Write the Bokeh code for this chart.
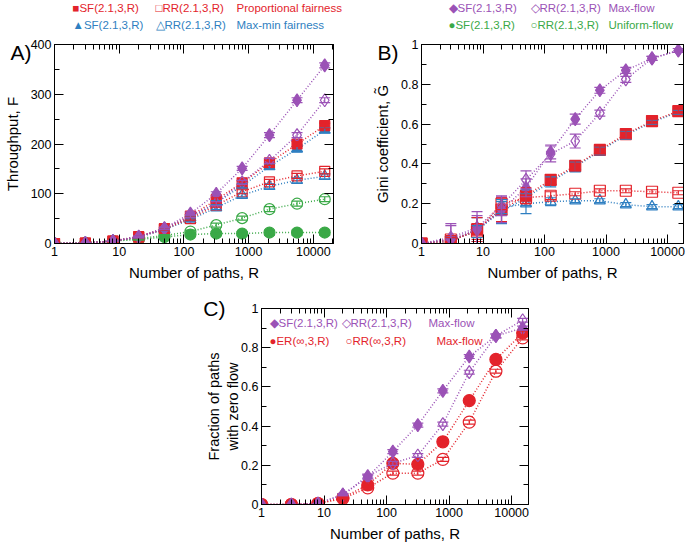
import math
from bokeh.plotting import figure
from bokeh.models import (Range1d, FixedTicker, CustomJSTickFormatter, LogAxis, LinearAxis,
                          Label, Whisker, TeeHead, ColumnDataSource, Spacer)
from bokeh.layouts import column, row
from bokeh.embed import file_html
from bokeh.resources import INLINE

# ---------------- data ----------------
R = [1, 3, 8, 20, 50, 126, 316, 794, 2100, 5600, 15000]

# Panel A: throughput F
A_sf_maxflow = [0, 1, 5, 14, 31, 60, 100, 151, 218, 288, 358]
A_rr_maxflow = [0, 1, 5, 13, 30, 55, 80, 123, 166, 218, 288]
A_sf_prop = [0, 1, 5, 14, 30, 55, 88, 122, 162, 200, 237]
A_rr_prop = [0, 1, 5, 13, 29, 50, 77, 104, 124, 136, 145]
A_sf_maxmin = [0, 1, 5, 13, 29, 52, 82, 116, 155, 190, 228]
A_rr_maxmin = [0, 1, 5, 13, 28, 48, 72, 97, 115, 127, 135]
A_sf_uniform = [0, 1, 5, 8, 13, 18, 20, 20, 22, 22, 22]
A_rr_uniform = [0, 1, 5, 10, 16, 24, 37, 51, 69, 80, 89]
A_err = [0, 0, 1, 1.5, 2, 3, 4, 4, 5, 5, 5]

# Panel B: Gini coefficient
B_sf_maxflow = [0, 0.02, 0.07, 0.17, 0.28, 0.46, 0.625, 0.77, 0.87, 0.93, 0.97]
B_sf_maxflow_err = [0, 0.07, 0.07, 0.065, 0.045, 0.035, 0.025, 0.015, 0.015, 0.01, 0.01]
B_rr_maxflow = [0, 0.03, 0.08, 0.19, 0.32, 0.45, 0.515, 0.655, 0.825, 0.93, 0.97]
B_rr_maxflow_err = [0, 0.07, 0.08, 0.05, 0.045, 0.04, 0.035, 0.015, 0.015, 0.01, 0.01]
B_sf_prop = [0, 0.01, 0.07, 0.17, 0.24, 0.32, 0.39, 0.47, 0.55, 0.615, 0.665]
B_sf_prop_err = [0, 0.02, 0.06, 0.06, 0.04, 0.025, 0.025, 0.02, 0.02, 0.01, 0.01]
B_rr_prop = [0, 0.02, 0.06, 0.2, 0.23, 0.24, 0.25, 0.265, 0.265, 0.26, 0.255]
B_rr_prop_err = [0, 0.02, 0.04, 0.03, 0.03, 0.02, 0.01, 0.01, 0.01, 0.01, 0.01]
B_sf_maxmin = [0, 0.01, 0.07, 0.16, 0.23, 0.31, 0.385, 0.465, 0.545, 0.61, 0.66]
B_sf_maxmin_err = [0, 0.02, 0.06, 0.06, 0.04, 0.025, 0.025, 0.02, 0.02, 0.01, 0.01]
B_rr_maxmin = [0, 0.02, 0.06, 0.18, 0.2, 0.21, 0.215, 0.215, 0.195, 0.185, 0.185]
B_rr_maxmin_err = [0, 0.02, 0.03, 0.03, 0.05, 0.02, 0.01, 0.01, 0.01, 0.01, 0.01]

# Panel C: fraction of paths with zero flow
C_sf_maxflow = [0, 0, 0.005, 0.05, 0.14, 0.27, 0.405, 0.58, 0.755, 0.86, 0.90]
C_rr_maxflow = [0, 0, 0.005, 0.05, 0.145, 0.21, 0.25, 0.41, 0.675, 0.86, 0.94]
C_er_maxflow = [0, 0, 0.005, 0.035, 0.1, 0.21, 0.205, 0.32, 0.53, 0.74, 0.875]
C_rrinf_maxflow = [0, 0, 0.005, 0.03, 0.085, 0.16, 0.16, 0.23, 0.42, 0.68, 0.85]
C_err = [0, 0, 0, 0.005, 0.01, 0.01, 0.01, 0.01, 0.01, 0.01, 0.01]

X_MAJOR = [1, 10, 100, 1000, 10000]
X_MINOR = [m * 10 ** k for k in range(0, 5) for m in range(2, 10)]
X_LABEL = "Number of paths, R"

PURPLE = "#9b52b6"
RED = "#e3232b"
BLUE = "#2f7fc1"
GREEN = "#3aa947"
FONT = "Liberation Sans"

LEG_H = 34


class Panel:
    def __init__(self, fig_left, fig_top, width, height, fl, fr, ft, fb, xr, yr):
        self.fl, self.fr, self.ft, self.fb = fl, fr, ft, fb
        self.xr, self.yr = xr, yr
        self.p = figure(width=width, height=height, x_axis_type="log",
                        x_range=Range1d(*xr), y_range=Range1d(*yr), title=None,
                        output_backend="svg", toolbar_location=None,
                        min_border_left=fl - fig_left, min_border_right=fig_left + width - fr,
                        min_border_top=ft - fig_top, min_border_bottom=fig_top + height - fb)

    def to_data(self, px, py):
        lx0, lx1 = math.log10(self.xr[0]), math.log10(self.xr[1])
        fx = (px - self.fl) / (self.fr - self.fl)
        x = 10 ** (lx0 + fx * (lx1 - lx0))
        fy = (self.fb - py) / (self.fb - self.ft)
        y = self.yr[0] + fy * (self.yr[1] - self.yr[0])
        return x, y

    def label(self, px, py, text, color="black", size="11.5px"):
        x, y = self.to_data(px, py)
        self.p.add_layout(Label(x=x, y=y, text=text, text_color=color, text_font=FONT,
                                text_font_size=size, text_align="left",
                                text_baseline="middle"))


def style(panel, yticks, yminor, ylabel, letter, letter_y, letter_standoff, ylabel_standoff,
          ylabel_size="15px"):
    p = panel.p
    p.grid.visible = False
    p.outline_line_color = "black"
    p.background_fill_color = "white"
    p.border_fill_color = "white"
    xt = FixedTicker(ticks=X_MAJOR, minor_ticks=X_MINOR)
    yt = FixedTicker(ticks=yticks, minor_ticks=yminor)
    p.xaxis.ticker = xt
    p.yaxis.ticker = yt
    p.xaxis.formatter = CustomJSTickFormatter(code="return tick.toFixed(0);")
    p.yaxis.formatter = CustomJSTickFormatter(code="return (Math.round(tick*10)/10).toString();")
    p.xaxis.axis_label = X_LABEL
    top = LogAxis(ticker=xt, formatter=CustomJSTickFormatter(code="return '';"))
    right = LinearAxis(ticker=yt, formatter=CustomJSTickFormatter(code="return '';"))
    p.add_layout(top, "above")
    p.add_layout(right, "right")
    for ax in p.axis:
        ax.major_tick_in = 9
        ax.major_tick_out = 0
        ax.minor_tick_in = 5
        ax.minor_tick_out = 0
        ax.axis_line_color = "black"
        ax.major_tick_line_color = "black"
        ax.minor_tick_line_color = "black"
        ax.major_label_text_font = FONT
        ax.major_label_text_font_size = "12.5px"
        ax.major_label_text_color = "black"
        ax.major_label_standoff = 3
        ax.axis_label_text_font = FONT
        ax.axis_label_text_font_size = "15px"
        ax.axis_label_text_font_style = "normal"
        ax.axis_label_text_color = "black"
    xa = p.xaxis[0]
    xa.axis_label_standoff = 0
    xa.major_label_standoff = 2
    xa.major_label_text_line_height = 1.0
    xa.axis_label_text_line_height = 1.0
    for ax in (top, right):
        ax.major_label_text_font_size = "1px"
        ax.major_label_text_color = None
        ax.major_label_standoff = 0
    # outer left axis: panel letter and y-axis title
    outer = LinearAxis(ticker=FixedTicker(ticks=[letter_y], minor_ticks=[]),
                       formatter=CustomJSTickFormatter(code="return '%s';" % letter),
                       axis_line_color=None, major_tick_line_color=None,
                       minor_tick_line_color=None, major_tick_in=0, major_tick_out=0,
                       major_label_standoff=letter_standoff,
                       major_label_text_font=FONT, major_label_text_font_size="21px",
                       major_label_text_color="black",
                       axis_label=ylabel, axis_label_standoff=ylabel_standoff,
                       axis_label_text_font=FONT, axis_label_text_font_size=ylabel_size,
                       axis_label_text_font_style="normal", axis_label_text_color="black")
    p.add_layout(outer, "left")


def series(p, y, err, color, marker, filled, size):
    src = ColumnDataSource(dict(x=R, y=y))
    p.line("x", "y", source=src, line_color=color, line_dash="1 2", line_width=1.5)
    xs = [x for x, e in zip(R, err) if e > 0]
    ys = [v for v, e in zip(y, err) if e > 0]
    es = [e for e in err if e > 0]
    wsrc = ColumnDataSource(dict(x=xs, lo=[a - b for a, b in zip(ys, es)],
                                 hi=[a + b for a, b in zip(ys, es)]))
    p.add_layout(Whisker(source=wsrc, base="x", lower="lo", upper="hi",
                         line_color=color, line_width=1.2, level="glyph",
                         lower_head=TeeHead(size=11, line_color=color, line_width=1.2),
                         upper_head=TeeHead(size=11, line_color=color, line_width=1.2)))
    p.scatter("x", "y", source=src, marker=marker, size=size,
              fill_color=color if filled else None, line_color=color, line_width=1.2)


# ---------------- legend strip above panels A and B ----------------
leg = figure(width=685, height=LEG_H, x_range=Range1d(0, 685), y_range=Range1d(0, LEG_H),
             x_axis_type=None, y_axis_type=None, title=None, output_backend="svg",
             toolbar_location=None, min_border=0)
leg.grid.visible = False
leg.outline_line_color = None


def leg_text(px, py, text, color):
    leg.add_layout(Label(x=px, y=LEG_H - py, text=text, text_color=color, text_font=FONT,
                         text_font_size="11.5px", text_align="left", text_baseline="middle"))


for px, py, txt, col in [
    (72, 7, "\u25a0SF(2.1,3,R)", RED), (155, 7, "\u25a1RR(2.1,3,R)", RED),
    (236, 7, "Proportional fairness", RED),
    (72, 24, "\u25b2SF(2.1,3,R)", BLUE), (155, 24, "\u25b3RR(2.1,3,R)", BLUE),
    (236, 24, "Max-min fairness", BLUE),
    (448, 7, "\u25c6SF(2.1,3,R)", PURPLE), (530, 7, "\u25c7RR(2.1,3,R)", PURPLE),
    (608, 7, "Max-flow", PURPLE),
    (448, 24, "\u25cfSF(2.1,3,R)", GREEN), (530, 24, "\u25cbRR(2.1,3,R)", GREEN),
    (608, 24, "Uniform-flow", GREEN),
]:
    leg_text(px, py, txt, col)

# ---------------- Panel A ----------------
A = Panel(0, LEG_H, 338, 283 - LEG_H, 45, 333, 44, 248, (1, 20500), (0, 400))
style(A, [0, 100, 200, 300, 400], [50, 150, 250, 350], "Throughput, F",
      "A)", 383, -4, -13)
pa = A.p
series(pa, A_rr_uniform, A_err, GREEN, "circle", False, 11)
series(pa, A_sf_uniform, A_err, GREEN, "circle", True, 11)
series(pa, A_rr_maxmin, A_err, BLUE, "triangle", False, 11)
series(pa, A_sf_maxmin, A_err, BLUE, "triangle", True, 11)
series(pa, A_rr_prop, A_err, RED, "square", False, 10)
series(pa, A_sf_prop, A_err, RED, "square", True, 10)
series(pa, A_rr_maxflow, A_err, PURPLE, "diamond", False, 13)
series(pa, A_sf_maxflow, A_err, PURPLE, "diamond", True, 13)

# ---------------- Panel B ----------------
B = Panel(338, LEG_H, 347, 283 - LEG_H, 421, 683, 44, 248, (1, 18200), (0, 1))
style(B, [0, 0.2, 0.4, 0.6, 0.8, 1.0], [0.1, 0.3, 0.5, 0.7, 0.9], "Gini coefficient, G\u0303",
      "B)", 0.96, 0, -16)
pb = B.p
series(pb, B_rr_maxmin, B_rr_maxmin_err, BLUE, "triangle", False, 11)
series(pb, B_sf_maxmin, B_sf_maxmin_err, BLUE, "triangle", True, 11)
series(pb, B_rr_prop, B_rr_prop_err, RED, "square", False, 11)
series(pb, B_sf_prop, B_sf_prop_err, RED, "square", True, 11)
series(pb, B_rr_maxflow, B_rr_maxflow_err, PURPLE, "diamond", False, 13)
series(pb, B_sf_maxflow, B_sf_maxflow_err, PURPLE, "diamond", True, 13)

# ---------------- Panel C ----------------
C = Panel(170, 283, 368, 261, 261, 528, 308, 511, (1, 18600), (0, 1))
style(C, [0, 0.2, 0.4, 0.6, 0.8, 1.0], [0.1, 0.3, 0.5, 0.7, 0.9],
      "Fraction of paths\nwith zero flow", "C)", 1.0, 13, -41, "14.5px")
pc = C.p
series(pc, C_rrinf_maxflow, C_err, RED, "circle", False, 12)
series(pc, C_er_maxflow, C_err, RED, "circle", True, 12)
series(pc, C_rr_maxflow, C_err, PURPLE, "diamond", False, 13)
series(pc, C_sf_maxflow, C_err, PURPLE, "diamond", True, 13)
C.label(269, 323, "\u25c6SF(2.1,3,R)", PURPLE)
C.label(341, 323, "\u25c7RR(2.1,3,R)", PURPLE)
C.label(428, 323, "Max-flow", PURPLE)
C.label(269, 342, "\u25cfER(\u221e,3,R)", RED)
C.label(345, 342, "\u25cbRR(\u221e,3,R)", RED)
C.label(436, 342, "Max-flow", RED)

layout = column(leg, row(pa, pb), row(Spacer(width=170, height=261), pc))

open("out.html", "w").write(file_html(layout, INLINE))
